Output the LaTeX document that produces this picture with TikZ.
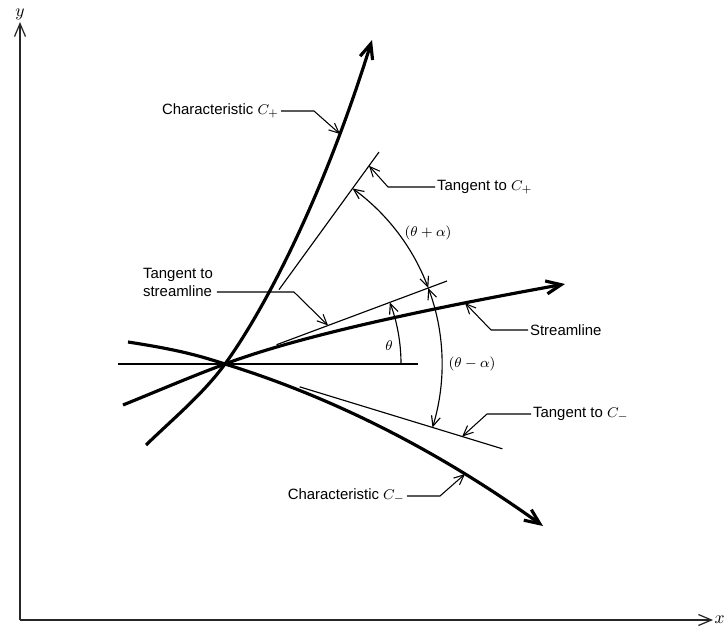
\documentclass[tikz,border=0pt]{standalone}
\usepackage{fontspec}
\setmainfont{Liberation Sans}
\usepackage{tikz}
\usetikzlibrary{arrows.meta, positioning, calc}

\begin{document}
\begin{tikzpicture}[x=0.02cm, y=0.02cm,
    axis/.style={line width=0.7pt, draw=black!85, -{Straight Barb[length=2.6mm, width=2.2mm]}},
    curve/.style={line width=1.8pt, -{Straight Barb[length=3mm, width=2.6mm]}},
    tangent/.style={line width=0.65pt},
    leader/.style={line width=0.6pt, -{Straight Barb[length=2mm, width=1.8mm]}},
    arcdim/.style={line width=0.65pt, {Straight Barb[length=2mm, width=1.8mm]}-{Straight Barb[length=2mm, width=1.8mm]}},
    thetaarc/.style={line width=0.65pt, -{Straight Barb[length=2mm, width=1.8mm]}},
    note/.style={font=\fontsize{8.5}{10.2}\selectfont, inner sep=1pt}
]
\useasboundingbox (0,0) rectangle (726,637);
% axes
\coordinate (O) at (20,17);
\draw[axis] (O) -- (20,615) node[above=0pt, inner sep=1pt] (ylab) {$y$};
\draw[axis] (O) -- (713,17) node[right=0pt, inner sep=0.5pt] (xlab) {$x$};
% point where the three curves meet
\coordinate (P) at (225,273);
\coordinate (cp) at (340,503);
\coordinate (cm) at (465,163);
\coordinate (sp) at (465,334);
\draw[tangent] (118,273) -- (418,273);
% curves
\draw[curve] (146,192) .. controls (175,220) and (203,243) .. (P)
   .. controls (260,321) and (320,430) .. (372,597);
\draw[curve] (128,295) .. controls (180,287) and (200,281) .. (P)
   .. controls (335,239) and (440,185) .. (543,111);
\draw[curve] (123,232) .. controls (160,247) and (190,260) .. (P)
   .. controls (310,305) and (460,334) .. (565,353);
% tangents at P
\draw[tangent] ([shift={(54:92)}]P) -- ([shift={(54:262)}]P);
\draw[tangent] ([shift={(20.5:55)}]P) -- ([shift={(20.5:237)}]P);
\draw[tangent] ([shift={(-17:78)}]P) -- ([shift={(-17:290)}]P);
\coordinate (tcp) at ([shift={(54:245)}]P);
\coordinate (tsp) at ([shift={(20.5:110)}]P);
\coordinate (tcm) at ([shift={(-17:248)}]P);
% angles
\draw[arcdim] ([shift={(54:217)}]P) arc[start angle=54, end angle=20.5, radius=217];
\draw[arcdim] ([shift={(20.5:217)}]P) arc[start angle=20.5, end angle=-17, radius=217];
\draw[thetaarc] ([shift={(0:176)}]P) arc[start angle=0, end angle=20.5, radius=176];
\node[note] (th) at (389,291) {$\theta$};
\node[note] (tpa) at (428,404) {$(\theta + \alpha)$};
\node[note] (tma) at (472,273) {$(\theta - \alpha)$};
% labels
\node[note, anchor=east] (lcp) at (281,526) {Characteristic $C_+$};
\draw[leader] (lcp.east) -- ++(33,0) -- (cp);
\node[note, anchor=west] (ltcp) at (435,450) {Tangent to $C_+$};
\draw[leader] (ltcp.west) -- ++(-47,0) -- (tcp);
\node[note, anchor=west, align=left] (lts) at (141,355) {Tangent to\\streamline};
\draw[leader] ([shift={(2,-10)}]lts.east) -- ++(77,0) -- (tsp);
\node[note, anchor=west] (lsl) at (528,307) {Streamline};
\draw[leader] (lsl.west) -- ++(-37,0) -- (sp);
\node[note, anchor=west] (ltcm) at (531,223) {Tangent to $C_-$};
\draw[leader] (ltcm.west) -- ++(-44,0) -- (tcm);
\node[note, anchor=east] (lcm) at (407,141) {Characteristic $C_-$};
\draw[leader] (lcm.east) -- ++(33,0) -- (cm);
\end{tikzpicture}
\end{document}
